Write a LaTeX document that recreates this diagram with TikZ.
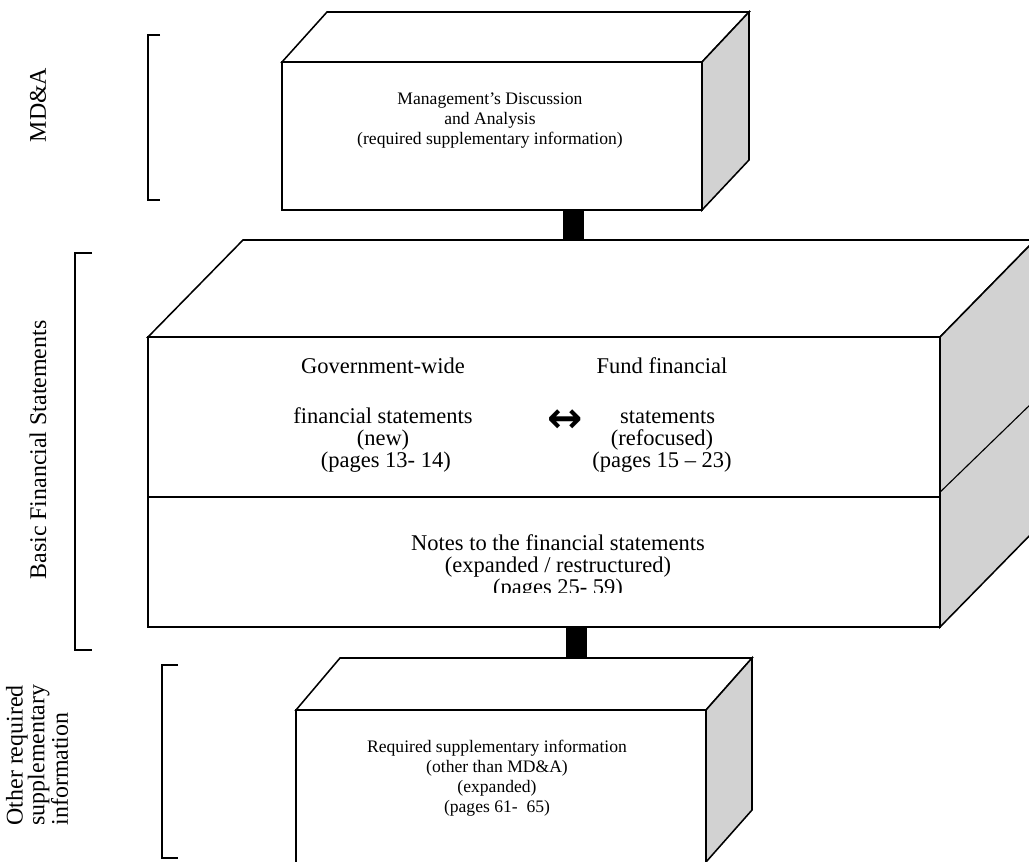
\documentclass[tikz,border=0pt]{standalone}
\usepackage{fontspec}
\setmainfont{Liberation Serif}
\newfontfamily\symfont{DejaVu Sans}
\usetikzlibrary{positioning}
\tikzset{
  face/.style={draw,line width=1.1pt,fill=white},
  side/.style={draw,line width=1.1pt,fill=gray!35},
  bar/.style={line width=0.525cm},
  brace/.style={line width=1.1pt},
  lbl/.style={rotate=90,font=\fontsize{17}{15.5}\selectfont,align=left},
  txt/.style={align=center,font=\fontsize{12.5}{14.2}\selectfont},
  bigtxt/.style={align=center,font=\fontsize{16}{15.5}\selectfont},
  arrtxt/.style={font=\symfont\bfseries\fontsize{30}{30}\selectfont},
}
\begin{document}
\begin{tikzpicture}[x=0.025cm,y=-0.025cm]
\useasboundingbox (0,0) rectangle (1029,861);
\clip (0,0) rectangle (1029,861);
\draw[brace] (160,35) -- (148,35) -- (148,200) -- (160,200);
\draw[brace] (92,253) -- (75,253) -- (75,650) -- (92,650);
\draw[brace] (178,665) -- (162,665) -- (162,858) -- (178,858);
\node[lbl] (mdaL) at (38,105) {MD\&A};
\node[lbl] (bfsL) at (38,450) {Basic Financial Statements};
\node[lbl] (orsL) at (37,755) {Other required\\supplementary\\information};

\draw[face] (282,62) -- (327,12) -- (749,12) -- (702,62) -- cycle;
\draw[side] (702,62) -- (749,12) -- (749,160) -- (702,210) -- cycle;
\draw[face] (282,62) rectangle (702,210);
\node[txt] (mda) at (490,121) {Management's Discussion\\and Analysis\\(required supplementary information)};

\draw[face] (148,337) -- (243,240) -- (1035,240) -- (940,337) -- cycle;
\draw[side] (940,337) -- (1035,240) -- (1035,530) -- (940,627) -- cycle;
\draw[line width=0.8pt] (935,497) -- (1035,400);
\draw[face] (148,337) rectangle (940,627);
\draw[line width=0.8pt] (148,497) -- (940,497);
\node[bigtxt] (gw) at (383,415) {Government-wide\\[20pt]financial statements\\(new)\\\ (pages 13- 14)};
\node[bigtxt] (fund) at (662,415) {Fund financial\\[20pt]\ \ statements\\(refocused)\\(pages 15 -- 23)};
\node[arrtxt] (arr) at (565,421) {↔};
\begin{scope}
\clip (148,497) rectangle (940,592);
\node[bigtxt,anchor=north] (notes) at (558,530) {Notes to the financial statements\\(expanded / restructured)\\(pages 25- 59)};
\end{scope}

\draw[face] (296,710) -- (340,658) -- (752,658) -- (706,710) -- cycle;
\draw[side] (706,710) -- (752,658) -- (752,810) -- (706,862) -- cycle;
\draw[face] (296,710) rectangle (706,900);
\node[txt] (rsi) at (497,778) {Required supplementary information\\(other than MD\&A)\\(expanded)\\(pages 61-\ \ 65)};

\coordinate (mdaB) at (573,210);
\coordinate (bfsT) at (573,240);
\coordinate (bfsB) at (576,627);
\coordinate (rsiT) at (576,658);
\draw[bar] (mdaB) -- (bfsT);
\draw[bar] (bfsB) -- (rsiT);
\end{tikzpicture}
\end{document}
